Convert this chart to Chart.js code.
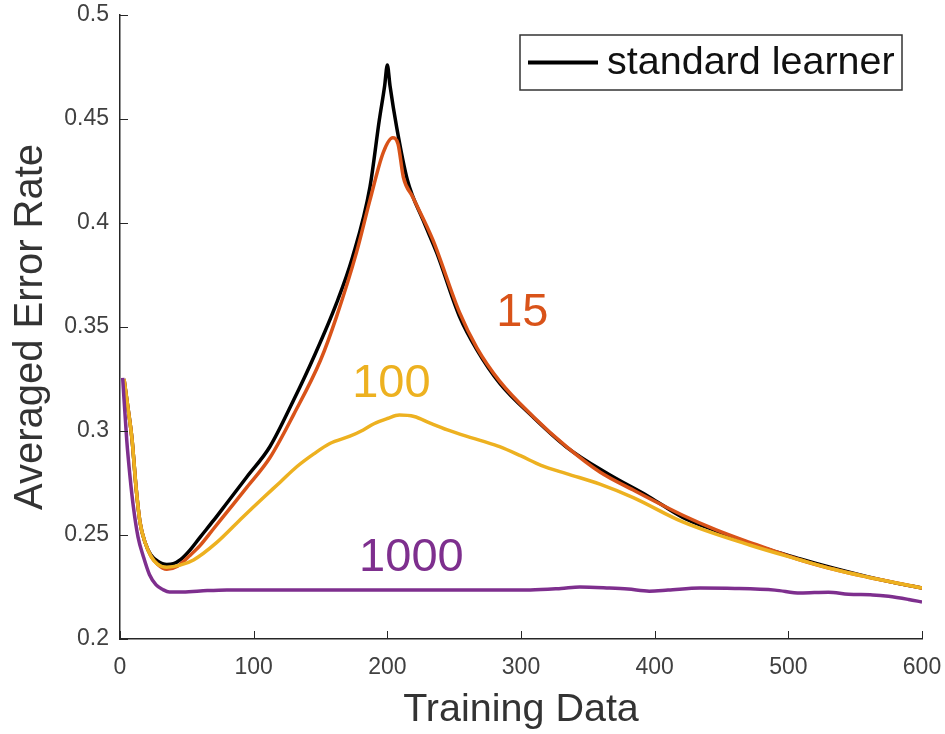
<!DOCTYPE html>
<html>
<head>
<meta charset="utf-8">
<script src="https://cdn.jsdelivr.net/npm/chart.js@4.4.1/dist/chart.umd.min.js"></script>
<style>
  html, body { margin: 0; padding: 0; background: #fff; }
  #wrap { width: 945px; height: 734px; position: relative; }
</style>
</head>
<body>
<div id="wrap"><canvas id="errorChart"></canvas></div>
<script>
// tick values
const xTicks = [0, 100, 200, 300, 400, 500, 600];
const yTicks = [0.2, 0.25, 0.3, 0.35, 0.4, 0.45, 0.5];

// standard learner (black)
const stdX = [3, 6, 9, 12, 15, 19, 23, 28, 35, 40, 45, 52, 60, 70, 80, 95, 112, 130, 145, 162, 174, 187, 194, 198, 200, 202, 207, 215, 227, 237, 254, 267, 284, 309, 334, 364, 396, 421, 446, 471, 509, 534, 559, 580, 600];
const stdY = [0.325, 0.311, 0.296, 0.273, 0.256, 0.246, 0.2405, 0.2375, 0.2358, 0.2362, 0.238, 0.2425, 0.249, 0.257, 0.2654, 0.278, 0.2923, 0.315, 0.3356, 0.3615, 0.3837, 0.4173, 0.4495, 0.466, 0.476, 0.466, 0.446, 0.4207, 0.401, 0.3856, 0.355, 0.339, 0.323, 0.3067, 0.2923, 0.2798, 0.2683, 0.2585, 0.252, 0.246, 0.2385, 0.234, 0.230, 0.227, 0.2245];

// 15 (orange)
const s15X = [3, 6, 9, 12, 15, 19, 23, 28, 35, 43, 52, 60, 70, 80, 95, 112, 130, 150, 162, 177, 187, 197, 204, 208, 212, 219, 234, 254, 267, 284, 309, 334, 359, 384, 421, 446, 471, 509, 534, 559, 580, 600];
const s15Y = [0.325, 0.311, 0.296, 0.273, 0.256, 0.246, 0.240, 0.236, 0.2335, 0.235, 0.240, 0.245, 0.253, 0.261, 0.273, 0.287, 0.308, 0.334, 0.355, 0.386, 0.411, 0.434, 0.441, 0.438, 0.422, 0.4125, 0.392, 0.357, 0.340, 0.324, 0.307, 0.2925, 0.2803, 0.2716, 0.2595, 0.2525, 0.2465, 0.238, 0.2335, 0.2298, 0.227, 0.2245];

// 100 (yellow)
const s100X = [3, 6, 9, 12, 15, 19, 23, 28, 35, 45, 55, 72, 92, 107, 120, 132, 145, 157, 172, 182, 190, 200, 209, 220, 232, 245, 259, 272, 284, 300, 315, 334, 359, 384, 421, 471, 509, 534, 559, 580, 600];
const s100Y = [0.325, 0.311, 0.296, 0.273, 0.256, 0.246, 0.240, 0.236, 0.2345, 0.2355, 0.238, 0.2462, 0.2587, 0.2678, 0.2755, 0.2827, 0.289, 0.294, 0.2975, 0.3005, 0.3035, 0.306, 0.3077, 0.307, 0.3038, 0.3005, 0.2975, 0.295, 0.2925, 0.288, 0.2835, 0.2795, 0.2745, 0.268, 0.2563, 0.2452, 0.238, 0.2335, 0.2298, 0.227, 0.2245];

// 1000 (purple)
const s1000X = [2, 5, 7.5, 10, 13.5, 17.5, 22, 27, 32, 37, 45, 60, 80, 100, 150, 200, 250, 307, 330, 344, 366, 380, 396, 410, 434, 460, 490, 509, 530, 545, 563, 575, 590, 600];
const s1000Y = [0.3255, 0.296, 0.278, 0.2636, 0.249, 0.2396, 0.231, 0.226, 0.2238, 0.2226, 0.2226, 0.2231, 0.2236, 0.2236, 0.2236, 0.2236, 0.2236, 0.2236, 0.2243, 0.225, 0.2245, 0.224, 0.223, 0.2235, 0.2245, 0.2243, 0.2235, 0.2221, 0.2225, 0.2215, 0.2212, 0.2205, 0.219, 0.2178];

// in-plot text labels
const tagText = ["15", "100", "1000"];
const tagX = [301, 203, 218];
const tagY = [0.3567, 0.3226, 0.2389];
const tagColor = ["#D95319", "#EDB120", "#7E2F8E"];

const FONT = "'Liberation Sans', Arial, sans-serif";

function pts(xs, ys) {
    return xs.map((x, i) => ({ x: x, y: ys[i] }));
}

const insideTicks = {
    id: 'insideTicks',
    afterDatasetsDraw(chart) {
        const { ctx, chartArea, scales } = chart;
        ctx.save();
        ctx.strokeStyle = '#262626';
        ctx.lineWidth = 1;
        xTicks.forEach(v => {
            const px = Math.round(scales.x.getPixelForValue(v)) + 0.5;
            ctx.beginPath();
            ctx.moveTo(px, chartArea.bottom);
            ctx.lineTo(px, chartArea.bottom - 8);
            ctx.stroke();
        });
        yTicks.forEach(v => {
            const py = Math.round(scales.y.getPixelForValue(v)) + 0.5;
            ctx.beginPath();
            ctx.moveTo(chartArea.left, py);
            ctx.lineTo(chartArea.left + 8, py);
            ctx.stroke();
        });
        ctx.restore();
    }
};

const tags = {
    id: 'tags',
    afterDatasetsDraw(chart) {
        const { ctx, scales } = chart;
        ctx.save();
        ctx.font = '47px ' + FONT;
        ctx.textAlign = 'center';
        ctx.textBaseline = 'middle';
        tagText.forEach((t, i) => {
            ctx.fillStyle = tagColor[i];
            ctx.fillText(t, scales.x.getPixelForValue(tagX[i]), scales.y.getPixelForValue(tagY[i]));
        });
        ctx.restore();
    }
};

const boxLegend = {
    id: 'boxLegend',
    afterDraw(chart) {
        const { ctx, chartArea } = chart;
        const ds = chart.data.datasets[0];
        const right = chartArea.right - 20;
        const left = right - 382;
        const top = chartArea.top + 20;
        const h = 55;
        ctx.save();
        ctx.fillStyle = '#fff';
        ctx.fillRect(left, top, right - left, h);
        ctx.strokeStyle = '#333';
        ctx.lineWidth = 1.5;
        ctx.strokeRect(left, top, right - left, h);
        ctx.strokeStyle = ds.borderColor;
        ctx.lineWidth = 4;
        ctx.beginPath();
        ctx.moveTo(left + 8, top + h / 2);
        ctx.lineTo(left + 78, top + h / 2);
        ctx.stroke();
        ctx.fillStyle = '#111';
        ctx.font = '39.5px ' + FONT;
        ctx.textBaseline = 'middle';
        ctx.fillText(ds.label, left + 87, top + h / 2 + 1);
        ctx.restore();
    }
};

const ctx = document.getElementById('errorChart').getContext('2d');

new Chart(ctx, {
    type: 'line',
    data: {
        datasets: [
            { label: 'standard learner', data: pts(stdX, stdY), borderColor: '#000000', order: 4 },
            { label: '15', data: pts(s15X, s15Y), borderColor: '#D95319', order: 3 },
            { label: '100', data: pts(s100X, s100Y), borderColor: '#EDB120', order: 2 },
            { label: '1000', data: pts(s1000X, s1000Y), borderColor: '#7E2F8E', order: 1 }
        ]
    },
    options: {
        responsive: true,
        maintainAspectRatio: false,
        animation: false,
        layout: { padding: { top: 15, right: 23, left: 0, bottom: 0 } },
        elements: {
            point: { radius: 0 },
            line: { borderWidth: 3.5, cubicInterpolationMode: 'monotone', fill: false }
        },
        plugins: {
            legend: { display: false },
            tooltip: { enabled: false }
        },
        scales: {
            x: {
                type: 'linear',
                min: 0,
                max: 600,
                afterBuildTicks: s => { s.ticks = xTicks.map(v => ({ value: v })); },
                afterFit: s => { s.height = 95; s.paddingLeft = 0; s.paddingRight = 0; },
                grid: { display: false, drawTicks: false },
                border: { display: true, color: '#262626', width: 1.5 },
                ticks: { color: '#404040', font: { family: FONT, size: 23 }, padding: 15, maxRotation: 0 },
                title: { display: true, text: 'Training Data', color: '#333', font: { family: FONT, size: 39.5, lineHeight: 1.2 }, padding: 0 }
            },
            y: {
                type: 'linear',
                min: 0.2,
                max: 0.5,
                afterBuildTicks: s => { s.ticks = yTicks.map(v => ({ value: v })); },
                afterFit: s => { s.width = 120; s.paddingTop = 0; s.paddingBottom = 0; },
                grid: { display: false, drawTicks: false },
                border: { display: true, color: '#262626', width: 1.5 },
                ticks: { color: '#404040', font: { family: FONT, size: 23 }, padding: 11, callback: v => String(v) },
                title: { display: true, text: 'Averaged Error Rate', color: '#333', font: { family: FONT, size: 40, lineHeight: 1.2 }, padding: { top: 7, bottom: 0 } }
            }
        }
    },
    plugins: [insideTicks, tags, boxLegend]
});
</script>
</body>
</html>
